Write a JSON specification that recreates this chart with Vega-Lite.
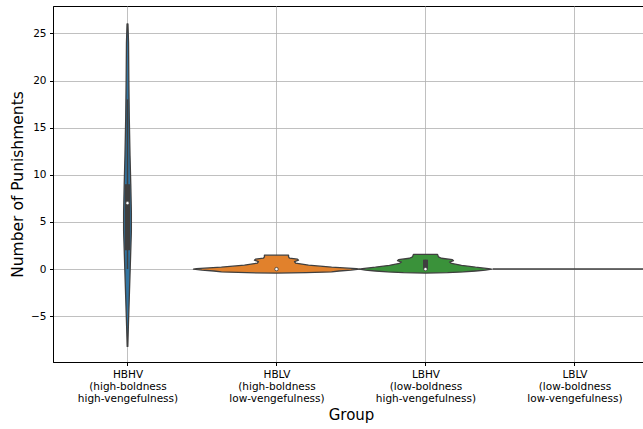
{
  "$schema": "https://vega.github.io/schema/vega-lite/v6.json",
  "width": 591,
  "height": 356,
  "autosize": {"type": "none"},
  "padding": {"left": 53, "top": 6, "right": 0, "bottom": 67},
  "background": "white",
  "config": {
    "view": {"stroke": "#000000", "strokeWidth": 1},
    "font": "DejaVu Sans",
    "axis": {
      "labelFont": "DejaVu Sans",
      "titleFont": "DejaVu Sans",
      "labelColor": "#000000",
      "titleColor": "#000000",
      "titleFontWeight": "normal",
      "labelFontSize": 10.5,
      "titleFontSize": 15,
      "domainColor": "#000000",
      "tickColor": "#000000",
      "tickSize": 3.5,
      "gridColor": "#b0b0b0",
      "gridWidth": 0.8
    }
  },
  "datasets": {
    "violin": [
      {"group": "HBHV", "pos": 0, "v": -8.2, "w": 0.002},
      {"group": "HBHV", "pos": 0, "v": -6, "w": 0.006},
      {"group": "HBHV", "pos": 0, "v": -3, "w": 0.012},
      {"group": "HBHV", "pos": 0, "v": 0, "w": 0.018},
      {"group": "HBHV", "pos": 0, "v": 2, "w": 0.022},
      {"group": "HBHV", "pos": 0, "v": 4, "w": 0.026},
      {"group": "HBHV", "pos": 0, "v": 6, "w": 0.026},
      {"group": "HBHV", "pos": 0, "v": 9, "w": 0.022},
      {"group": "HBHV", "pos": 0, "v": 12, "w": 0.017},
      {"group": "HBHV", "pos": 0, "v": 16, "w": 0.012},
      {"group": "HBHV", "pos": 0, "v": 20, "w": 0.009},
      {"group": "HBHV", "pos": 0, "v": 24, "w": 0.007},
      {"group": "HBHV", "pos": 0, "v": 26, "w": 0.003},
      {"group": "HBLV", "pos": 1, "v": -0.42, "w": 0.0},
      {"group": "HBLV", "pos": 1, "v": -0.38, "w": 0.2},
      {"group": "HBLV", "pos": 1, "v": -0.3, "w": 0.37},
      {"group": "HBLV", "pos": 1, "v": -0.2, "w": 0.42},
      {"group": "HBLV", "pos": 1, "v": -0.1, "w": 0.5},
      {"group": "HBLV", "pos": 1, "v": 0.0, "w": 0.557},
      {"group": "HBLV", "pos": 1, "v": 0.05, "w": 0.537},
      {"group": "HBLV", "pos": 1, "v": 0.21, "w": 0.37},
      {"group": "HBLV", "pos": 1, "v": 0.42, "w": 0.215},
      {"group": "HBLV", "pos": 1, "v": 0.64, "w": 0.128},
      {"group": "HBLV", "pos": 1, "v": 0.8, "w": 0.121},
      {"group": "HBLV", "pos": 1, "v": 0.95, "w": 0.148},
      {"group": "HBLV", "pos": 1, "v": 1.05, "w": 0.141},
      {"group": "HBLV", "pos": 1, "v": 1.17, "w": 0.087},
      {"group": "HBLV", "pos": 1, "v": 1.3, "w": 0.081},
      {"group": "HBLV", "pos": 1, "v": 1.48, "w": 0.081},
      {"group": "LBHV", "pos": 2, "v": -0.42, "w": 0.0},
      {"group": "LBHV", "pos": 2, "v": -0.38, "w": 0.148},
      {"group": "LBHV", "pos": 2, "v": -0.3, "w": 0.255},
      {"group": "LBHV", "pos": 2, "v": -0.2, "w": 0.336},
      {"group": "LBHV", "pos": 2, "v": -0.1, "w": 0.403},
      {"group": "LBHV", "pos": 2, "v": 0.0, "w": 0.443},
      {"group": "LBHV", "pos": 2, "v": 0.05, "w": 0.423},
      {"group": "LBHV", "pos": 2, "v": 0.2, "w": 0.336},
      {"group": "LBHV", "pos": 2, "v": 0.4, "w": 0.242},
      {"group": "LBHV", "pos": 2, "v": 0.6, "w": 0.175},
      {"group": "LBHV", "pos": 2, "v": 0.75, "w": 0.161},
      {"group": "LBHV", "pos": 2, "v": 0.9, "w": 0.188},
      {"group": "LBHV", "pos": 2, "v": 1.0, "w": 0.181},
      {"group": "LBHV", "pos": 2, "v": 1.15, "w": 0.107},
      {"group": "LBHV", "pos": 2, "v": 1.3, "w": 0.087},
      {"group": "LBHV", "pos": 2, "v": 1.56, "w": 0.081}
    ],
    "flat": [
      {"group": "LBLV", "pos": 3, "v": 0, "w": 0.55}
    ],
    "box": [
      {"group": "HBHV", "pos": 0, "wlo": 0, "whi": 18, "q1": 2, "q3": 9, "med": 7},
      {"group": "HBLV", "pos": 1, "wlo": 0, "whi": 0, "q1": 0, "q3": 0, "med": 0},
      {"group": "LBHV", "pos": 2, "wlo": 0, "whi": 1, "q1": 0, "q3": 1, "med": 0}
    ]
  },
  "layer": [
    {
      "data": {"name": "violin"},
      "transform": [
        {"calculate": "datum.pos - datum.w", "as": "lo"},
        {"calculate": "datum.pos + datum.w", "as": "hi"}
      ],
      "mark": {"type": "area", "orient": "horizontal", "stroke": "#3f3f3f", "strokeWidth": 1.3, "strokeJoin": "round"},
      "encoding": {
        "y": {
          "field": "v", "type": "quantitative",
          "scale": {"domain": [-9.85, 27.9], "nice": false, "zero": false},
          "title": "Number of Punishments",
          "axis": {
            "values": [-5, 0, 5, 10, 15, 20, 25],
            "grid": true,
            "labelExpr": "replace(datum.label, '-', '\u2212')",
            "labelPadding": 3.5,
            "titleFontSize": 15.5,
            "titlePadding": 5
          }
        },
        "x": {
          "field": "lo", "type": "quantitative",
          "scale": {"domain": [-0.5, 3.4667], "nice": false, "zero": false},
          "title": "Group",
          "axis": {
            "values": [0, 1, 2, 3],
            "grid": true,
            "titleX": 298,
            "labelLineHeight": 12,
            "labelPadding": 3.5,
            "titlePadding": 4,
            "labelExpr": "datum.value == 0 ? ['HBHV', '(high-boldness', 'high-vengefulness)'] : datum.value == 1 ? ['HBLV', '(high-boldness', 'low-vengefulness)'] : datum.value == 2 ? ['LBHV', '(low-boldness', 'high-vengefulness)'] : ['LBLV', '(low-boldness', 'low-vengefulness)']"
          }
        },
        "x2": {"field": "hi"},
        "color": {
          "field": "group", "type": "nominal",
          "scale": {"domain": ["HBHV", "HBLV", "LBHV", "LBLV"], "range": ["#3274a1", "#e1812c", "#3a923a", "#c03d3e"]},
          "legend": null
        }
      }
    },
    {
      "data": {"name": "flat"},
      "transform": [
        {"calculate": "datum.pos - datum.w", "as": "lo"},
        {"calculate": "datum.pos + datum.w", "as": "hi"}
      ],
      "mark": {"type": "rule", "color": "#3f3f3f", "strokeWidth": 1.5},
      "encoding": {
        "y": {"field": "v", "type": "quantitative", "title": "Number of Punishments"},
        "x": {"field": "lo", "type": "quantitative", "title": "Group"},
        "x2": {"field": "hi"}
      }
    },
    {
      "data": {"name": "box"},
      "mark": {"type": "rule", "color": "#3f3f3f", "strokeWidth": 1.5},
      "encoding": {
        "x": {"field": "pos", "type": "quantitative", "title": "Group"},
        "y": {"field": "wlo", "type": "quantitative", "title": "Number of Punishments"},
        "y2": {"field": "whi"}
      }
    },
    {
      "data": {"name": "box"},
      "mark": {"type": "rule", "color": "#3f3f3f", "strokeWidth": 5},
      "encoding": {
        "x": {"field": "pos", "type": "quantitative", "title": "Group"},
        "y": {"field": "q1", "type": "quantitative", "title": "Number of Punishments"},
        "y2": {"field": "q3"}
      }
    },
    {
      "data": {"name": "box"},
      "mark": {"type": "point", "shape": "circle", "filled": true, "fill": "#ffffff", "stroke": "#3f3f3f", "strokeWidth": 0.8, "size": 12, "opacity": 1},
      "encoding": {
        "x": {"field": "pos", "type": "quantitative", "title": "Group"},
        "y": {"field": "med", "type": "quantitative", "title": "Number of Punishments"}
      }
    }
  ]
}
